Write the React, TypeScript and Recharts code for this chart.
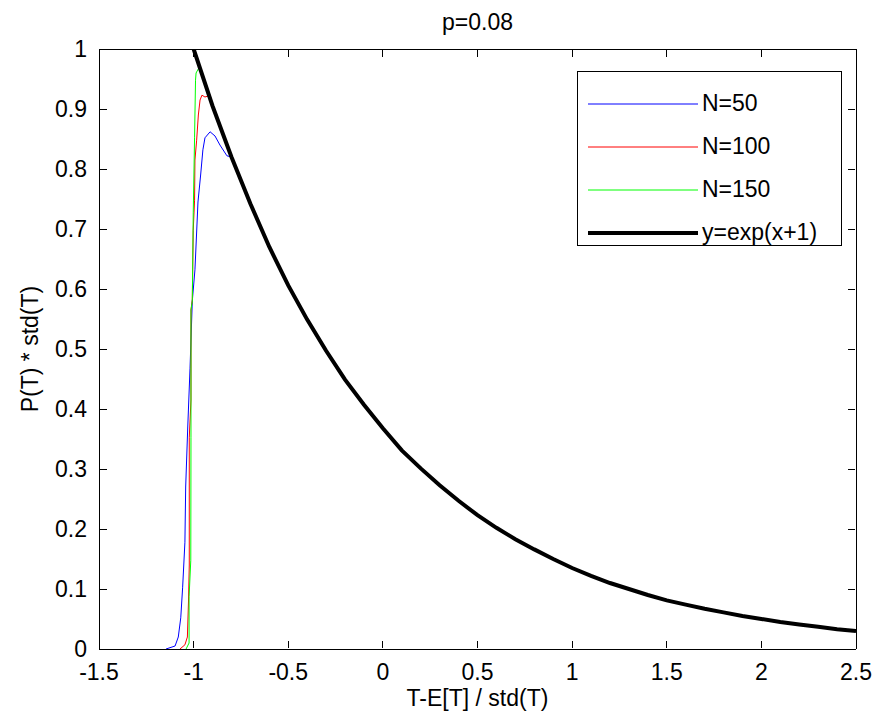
import * as React from "react";
import { LineChart, Line, XAxis, YAxis } from "recharts";

// shared tail (all curves sit on the exp curve after the peak)
const tailX = [-0.9, -0.8, -0.7, -0.6, -0.5, -0.4, -0.3, -0.2, -0.1, 0, 0.1, 0.2, 0.3, 0.4, 0.5, 0.6, 0.7, 0.8, 0.9, 1.0, 1.1, 1.2, 1.3, 1.4, 1.5, 1.6, 1.7, 1.8, 1.9, 2.0, 2.1, 2.2, 2.3, 2.4, 2.5];
const tailY = [0.905, 0.82, 0.742, 0.67, 0.606, 0.549, 0.497, 0.449, 0.407, 0.368, 0.331, 0.301, 0.273, 0.247, 0.223, 0.202, 0.183, 0.166, 0.15, 0.135, 0.122, 0.11, 0.1, 0.09, 0.081, 0.074, 0.067, 0.061, 0.055, 0.05, 0.045, 0.041, 0.037, 0.033, 0.03];

// rising edge of each histogram
const n50X = [-1.146, -1.098, -1.081, -1.068, -1.058, -1.046, -1.042, -1.031, -1.019, -1.007, -0.993, -0.984, -0.977, -0.963, -0.951, -0.94, -0.913, -0.887, -0.861, -0.824];
const n50Y = [0, 0.005, 0.02, 0.052, 0.103, 0.178, 0.27, 0.37, 0.468, 0.58, 0.632, 0.695, 0.745, 0.79, 0.832, 0.852, 0.862, 0.855, 0.84, 0.822];

const n100X = [-1.072, -1.046, -1.033, -1.027, -1.023, -1.023, -1.014, -1.014, -1.007, -1.002, -0.995, -0.993, -0.984, -0.975, -0.966, -0.956, -0.94, -0.92];
const n100Y = [0, 0.007, 0.02, 0.08, 0.14, 0.353, 0.415, 0.565, 0.582, 0.698, 0.748, 0.815, 0.848, 0.89, 0.915, 0.923, 0.92, 0.922];

const n150X = [-1.04, -1.024, -1.024, -1.015, -1.014, -1.014, -1.007, -1.002, -0.995, -0.99, -0.987, -0.97, -0.95];
const n150Y = [0, 0.01, 0.087, 0.148, 0.353, 0.565, 0.58, 0.727, 0.853, 0.948, 0.96, 0.97, 0.951];

const expX = [-1.0, ...tailX];
const expY = [1.0, ...tailY];

const xTicks = [-1.5, -1, -0.5, 0, 0.5, 1, 1.5, 2, 2.5];
const yTicks = [0, 0.1, 0.2, 0.3, 0.4, 0.5, 0.6, 0.7, 0.8, 0.9, 1];

const zip = (xs: number[], ys: number[]) => xs.map((x, i) => ({ x, y: ys[i] }));

const series = [
  { name: "N=50", color: "#0000ff", width: 1, data: [...zip(n50X, n50Y), ...zip(tailX.slice(1), tailY.slice(1))] },
  { name: "N=100", color: "#ff0000", width: 1, data: [...zip(n100X, n100Y), ...zip(tailX, tailY)] },
  { name: "N=150", color: "#00ff00", width: 1, data: [...zip(n150X, n150Y), ...zip(tailX, tailY)] },
  { name: "y=exp(x+1)", color: "#000000", width: 4, data: zip(expX, expY) },
];

const FONT = "'Liberation Sans', Arial, sans-serif";
const TICK = 7;

const fmt = (v: number) => String(v);

const bottomTick = (props: any) => {
  const { x, y, payload } = props;
  return (
    <g key={`b${payload.value}`}>
      <line x1={x} y1={y - 1} x2={x} y2={y - 1 - TICK} stroke="#000" strokeWidth={1} shapeRendering="crispEdges" />
      <text x={x} y={y + 31} textAnchor="middle" fontSize={23} fontFamily={FONT} fill="#000">
        {fmt(payload.value)}
      </text>
    </g>
  );
};
const topTick = (props: any) => {
  const { x, y, payload } = props;
  return <line key={`t${payload.value}`} x1={x} y1={y + 1} x2={x} y2={y + 1 + TICK} stroke="#000" strokeWidth={1} shapeRendering="crispEdges" />;
};
const leftTick = (props: any) => {
  const { x, y, payload } = props;
  return (
    <g key={`l${payload.value}`}>
      <line x1={x + 1} y1={y} x2={x + 1 + TICK} y2={y} stroke="#000" strokeWidth={1} shapeRendering="crispEdges" />
      <text x={x - 12} y={y + 8} textAnchor="end" fontSize={23} fontFamily={FONT} fill="#000">
        {fmt(payload.value)}
      </text>
    </g>
  );
};
const rightTick = (props: any) => {
  const { x, y, payload } = props;
  return <line key={`r${payload.value}`} x1={x - 1} y1={y} x2={x - 1 - TICK} y2={y} stroke="#000" strokeWidth={1} shapeRendering="crispEdges" />;
};

function LegendBox() {
  return (
    <div
      style={{
        position: "absolute",
        left: 577,
        top: 71,
        width: 265,
        height: 175,
        border: "1px solid #000",
        background: "#fff",
        boxSizing: "border-box",
        fontFamily: FONT,
        fontSize: 23,
      }}
    >
      {series.map((s, i) => (
        <div key={s.name} style={{ position: "absolute", left: 0, top: 10 + i * 43, height: 43, display: "flex", alignItems: "center" }}>
          <svg width={120} height={10} style={{ display: "block" }}>
            <line x1={10} y1={5} x2={120} y2={5} stroke={s.color} strokeWidth={s.width} />
          </svg>
          <span style={{ marginLeft: 4 }}>{s.name}</span>
        </div>
      ))}
    </div>
  );
}

const axisLine = { stroke: "#000", strokeWidth: 1, shapeRendering: "crispEdges" };

export default function App() {
  return (
    <div style={{ position: "absolute", left: 0, top: 0, width: 876, height: 719, background: "#fff", fontFamily: FONT }}>
      <div style={{ position: "absolute", left: 99, width: 757, top: 9, textAlign: "center", fontSize: 23 }}>p=0.08</div>
      <div style={{ position: "absolute", left: 99, width: 757, top: 685, textAlign: "center", fontSize: 23 }}>T-E[T] / std(T)</div>
      <div
        style={{
          position: "absolute",
          left: 30,
          top: 349,
          transform: "translate(-50%, -50%) rotate(-90deg)",
          whiteSpace: "nowrap",
          fontSize: 23,
        }}
      >
        P(T) * std(T)
      </div>
      <div style={{ position: "absolute", left: 0, top: 0 }}>
        <LineChart width={876} height={719} margin={{ top: 48, right: 19, left: 0, bottom: 69 }}>
          <XAxis
            xAxisId="b"
            dataKey="x"
            type="number"
            domain={[-1.5, 2.5]}
            ticks={xTicks}
            allowDataOverflow
            height={1}
            tickSize={0}
            tickMargin={0}
            tickLine={false}
            axisLine={axisLine}
            tick={bottomTick}
            interval={0}
          />
          <XAxis
            xAxisId="t"
            orientation="top"
            dataKey="x"
            type="number"
            domain={[-1.5, 2.5]}
            ticks={xTicks}
            allowDataOverflow
            height={1}
            tickSize={0}
            tickMargin={0}
            tickLine={false}
            axisLine={axisLine}
            tick={topTick}
            interval={0}
          />
          <YAxis
            yAxisId="l"
            type="number"
            domain={[0, 1]}
            ticks={yTicks}
            allowDataOverflow
            width={99}
            tickSize={0}
            tickMargin={0}
            tickLine={false}
            axisLine={axisLine}
            tick={leftTick}
            interval={0}
          />
          <YAxis
            yAxisId="r"
            orientation="right"
            type="number"
            domain={[0, 1]}
            ticks={yTicks}
            allowDataOverflow
            width={1}
            tickSize={0}
            tickMargin={0}
            tickLine={false}
            axisLine={axisLine}
            tick={rightTick}
            interval={0}
          />
          {series.map((s) => (
            <Line
              key={s.name}
              xAxisId="b"
              yAxisId="l"
              data={s.data}
              dataKey="y"
              name={s.name}
              type="linear"
              stroke={s.color}
              strokeWidth={s.width}
              dot={false}
              activeDot={false}
              isAnimationActive={false}
            />
          ))}
        </LineChart>
      </div>
      <LegendBox />
    </div>
  );
}
